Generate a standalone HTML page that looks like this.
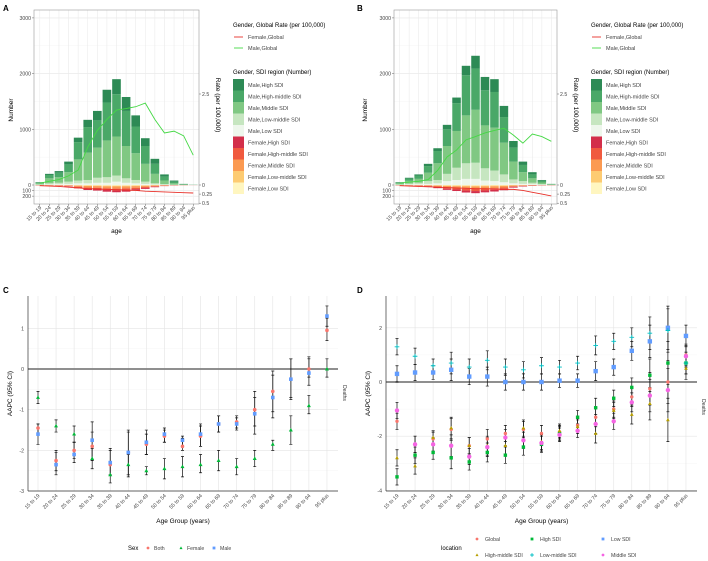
<!DOCTYPE html>
<html><head><meta charset="utf-8"><style>
html,body{margin:0;padding:0;background:#fff}
svg{display:block;font-family:"Liberation Sans",sans-serif}
</style></head><body>
<svg id="s" width="708" height="561" viewBox="0 0 708 561" xmlns="http://www.w3.org/2000/svg"></svg>
<script>
const ages=["15 to 19","20 to 24","25 to 29","30 to 34","35 to 39","40 to 44","45 to 49","50 to 54","55 to 59","60 to 64","65 to 69","70 to 74","75 to 79","80 to 84","85 to 89","90 to 94","95 plus"];
// Panel A male numbers by SDI
const aMaleHigh=[5,20,30,50,80,130,170,230,270,250,200,140,90,40,20,5,1];
const aMaleHighMid=[15,60,80,140,310,460,490,680,760,630,480,320,180,70,30,8,2];
const aMaleMid=[20,90,100,170,380,490,540,660,700,580,480,320,170,65,25,6,2];
const aMaleLowMid=[5,20,25,40,50,60,90,100,110,80,60,40,20,10,3,1,0];
const aMaleLow=[5,10,15,20,30,30,40,40,60,40,30,20,10,5,2,0,0];
const aFemHigh=[3,4,5,8,15,22,25,30,32,30,25,18,10,5,3,1,1];
const aFemHighMid=[2,4,5,8,15,22,25,30,33,30,25,17,10,5,2,1,0];
const aFemMid=[3,4,6,9,18,28,30,36,39,36,30,21,12,6,3,2,1];
const aFemLowMid=[1,2,2,3,6,9,10,12,13,12,10,7,4,2,1,1,0];
const aFemLow=[1,1,2,2,6,9,10,12,13,12,10,7,4,2,1,0,0];
const aRateMale=[0.05,0.1,0.15,0.25,0.41,1.04,1.5,1.8,2.06,2.1,2.15,2.25,1.8,1.43,1.48,1.35,0.82];
const aRateFem=[0.02,0.03,0.04,0.06,0.08,0.1,0.11,0.12,0.13,0.14,0.15,0.17,0.18,0.19,0.2,0.21,0.22];
// Panel B
const bMaleHigh=[5,15,20,40,50,80,100,170,230,240,230,200,120,60,40,15,4];
const bMaleHighMid=[15,40,60,120,220,300,500,720,740,630,640,460,250,130,70,30,6];
const bMaleMid=[20,50,70,150,300,500,660,860,950,770,770,570,320,160,80,30,6];
const bMaleLowMid=[5,15,25,50,60,130,220,280,290,220,190,140,70,50,25,10,3];
const bMaleLow=[5,10,15,20,30,70,90,110,110,80,70,50,30,20,15,5,1];
const bFemHigh=[3,4,5,8,15,22,28,35,38,34,30,25,12,8,5,3,2];
const bFemHighMid=[2,4,5,8,14,22,27,35,37,33,30,24,12,7,4,2,1];
const bFemMid=[3,4,6,10,17,26,32,40,44,40,35,28,14,8,5,3,2];
const bFemLowMid=[1,2,2,3,6,9,11,13,15,13,12,9,5,3,2,1,1];
const bFemLow=[1,1,2,2,5,8,10,12,13,12,10,8,4,2,1,1,0];
const bRateMale=[0.05,0.08,0.1,0.15,0.4,0.77,0.96,1.24,1.33,1.43,1.5,1.56,1.37,1.15,1.4,1.33,1.2];
const bRateFem=[0.02,0.03,0.04,0.05,0.06,0.07,0.08,0.09,0.1,0.1,0.11,0.12,0.12,0.15,0.2,0.25,0.3];
// Panel C
const cBoth=[-1.45,-2.25,-2.0,-1.9,-2.35,-2.05,-1.85,-1.65,-1.9,-1.65,-1.35,-1.3,-1.0,-0.55,-0.25,0.0,0.95];
const cBothLo=[-1.6,-2.5,-2.2,-2.25,-2.6,-2.6,-2.1,-1.8,-2.0,-1.9,-1.55,-1.45,-1.4,-1.05,-0.7,-0.2,0.7];
const cBothHi=[-1.35,-2.0,-1.8,-1.55,-2.0,-1.55,-1.6,-1.5,-1.7,-1.4,-1.15,-1.15,-0.55,-0.05,0.25,0.3,1.25];
const cFem=[-0.7,-1.4,-1.6,-2.2,-2.6,-2.35,-2.5,-2.45,-2.4,-2.35,-2.25,-2.4,-2.2,-1.85,-1.5,-0.9,0.0];
const cFemLo=[-0.85,-1.55,-1.8,-2.45,-2.8,-2.65,-2.6,-2.7,-2.65,-2.55,-2.5,-2.6,-2.4,-2.0,-1.85,-1.1,-0.2];
const cFemHi=[-0.55,-1.25,-1.4,-1.95,-2.35,-2.1,-2.4,-2.2,-2.15,-2.1,-2.0,-2.2,-2.0,-1.75,-1.15,-0.65,0.25];
const cMale=[-1.6,-2.35,-2.1,-1.75,-2.3,-2.05,-1.8,-1.6,-1.75,-1.6,-1.35,-1.35,-1.1,-0.7,-0.25,-0.1,1.3];
const cMaleLo=[-1.85,-2.6,-2.3,-2.25,-2.6,-2.6,-2.1,-1.8,-1.9,-1.9,-1.55,-1.5,-1.6,-1.2,-0.75,-0.4,1.05];
const cMaleHi=[-1.35,-2.05,-1.8,-1.3,-1.95,-1.5,-1.5,-1.45,-1.65,-1.35,-1.15,-1.2,-0.7,-0.15,0.25,0.25,1.55];
// Panel D
const dGlobal=[-1.45,-2.3,-2.1,-1.75,-2.35,-2.1,-1.9,-1.75,-1.9,-1.85,-1.6,-1.3,-1.0,-0.55,-0.25,0.0,1.0];
const dHighSDI=[-3.5,-2.7,-2.6,-2.8,-2.95,-2.6,-2.7,-2.4,-2.3,-1.9,-1.3,-0.95,-0.6,-0.2,0.25,0.7,0.7];
const dLowSDI=[0.3,0.35,0.35,0.45,0.2,0.2,0.0,0.0,0.0,0.05,0.05,0.4,0.55,1.15,1.5,2.0,1.7];
const dHighMid=[-2.8,-3.1,-2.05,-1.7,-2.35,-2.35,-2.35,-1.7,-2.2,-1.8,-1.65,-1.9,-1.05,-1.2,-0.8,-1.4,0.5];
const dLowMid=[1.3,0.95,0.6,0.7,0.55,0.8,0.55,0.45,0.6,0.55,0.7,1.35,1.5,1.65,1.8,1.9,0.7];
const dMiddle=[-1.05,-2.3,-2.3,-2.35,-2.75,-2.4,-2.05,-2.15,-2.25,-1.95,-1.8,-1.55,-1.45,-0.75,-0.5,-0.3,0.95];
const dErr=[0.3,0.3,0.25,0.4,0.3,0.35,0.3,0.3,0.3,0.25,0.25,0.35,0.3,0.35,0.6,0.8,0.4];

const NS="http://www.w3.org/2000/svg";const S=document.getElementById('s');
function el(t,a,p){const e=document.createElementNS(NS,t);for(const k in a)e.setAttribute(k,a[k]);(p||S).appendChild(e);return e;}
function tx(x,y,s,o){const e=el('text',Object.assign({x:x,y:y,'font-size':5.5,fill:'#444'},o||{}));e.textContent=s;return e;}

const mCols=["#2d8a55","#4aa868","#80c883","#c6e6c0","#eef7ec"];
const fCols=["#d32f4a","#f05a3f","#fb9a52","#fdcb72","#fff6c0"];

function barPanel(ox,x0,x1,letter,males,fems,rM,rF,nm){
  const g=el('g',{});
  
  
  const yT=10,yB=204,y0=185,k=0.0557,rk=36.4;
  const n=ages.length,step=(x1-x0)/(n-1+1.2);
  const cx=i=>x0+(0.6+i)*step;
  const yN=v=>y0-v*k, yNf=v=>y0+v*k, yR=r=>y0-r*rk, yRf=r=>y0+r*rk;
  el('rect',{x:x0,y:yT,width:x1-x0,height:yB-yT,fill:'#fff'},g);
  [500,1500,2500].forEach(v=>el('line',{x1:x0,x2:x1,y1:yN(v),y2:yN(v),stroke:'#f3f3f3','stroke-width':0.4},g));
  [0,1000,2000,3000].forEach(v=>el('line',{x1:x0,x2:x1,y1:yN(v),y2:yN(v),stroke:'#e6e6e6','stroke-width':0.6},g));
  [100,200].forEach(v=>el('line',{x1:x0,x2:x1,y1:yNf(v),y2:yNf(v),stroke:'#e6e6e6','stroke-width':0.6},g));
  ages.forEach((a,i)=>el('line',{x1:cx(i),x2:cx(i),y1:yT,y2:yB,stroke:'#ebebeb','stroke-width':0.6},g));
  const bw=step*0.9;
  ages.forEach((a,i)=>{
    let acc=0;
    for(let s=4;s>=0;s--){const v=males[s][i];const r=el('rect',{x:cx(i)-bw/2,y:yN(acc+v),width:bw,height:v*k,fill:mCols[s]},g);
      
      acc+=v;}
    acc=0;
    for(let s=4;s>=0;s--){const v=fems[s][i];const r=el('rect',{x:cx(i)-bw/2,y:yNf(acc),width:bw,height:v*k,fill:fCols[s]},g);
      
      acc+=v;}
  });
  const lm=el('polyline',{points:rM.map((r,i)=>cx(i)+','+yR(r)).join(' '),fill:'none',stroke:'#45d845','stroke-width':0.9},g);
  
  
  const lf=el('polyline',{points:rF.map((r,i)=>cx(i)+','+yRf(r)).join(' '),fill:'none',stroke:'#e8312a','stroke-width':0.9},g);
  
  
  el('rect',{x:x0,y:yT,width:x1-x0,height:yB-yT,fill:'none',stroke:'#999','stroke-width':0.6},g);
  [[3000,yN(3000)],[2000,yN(2000)],[1000,yN(1000)],[0,yN(0)],[100,yNf(100)],[200,yNf(200)]].forEach(t=>{
    el('line',{x1:x0-2,x2:x0,y1:t[1],y2:t[1],stroke:'#666','stroke-width':0.5},g);
    tx(x0-3,t[1]+2,String(t[0]),{'text-anchor':'end','font-size':5.2});});
  [[2.5,yR(2.5)],[0,y0],[0.25,yRf(0.25)],[0.5,yRf(0.5)]].forEach(t=>{
    el('line',{x1:x1,x2:x1+2,y1:t[1],y2:t[1],stroke:'#666','stroke-width':0.5},g);
    tx(x1+3,t[1]+2,String(t[0]),{'font-size':5.2});});
  ages.forEach((a,i)=>{el('line',{x1:cx(i),x2:cx(i),y1:yB,y2:yB+2,stroke:'#666','stroke-width':0.5},g);
    tx(cx(i)+2,yB+4,a,{'text-anchor':'end','font-size':5.2,transform:`rotate(-45 ${cx(i)+2} ${yB+4})`});});
  tx((x0+x1)/2,233,'age',{'text-anchor':'middle','font-size':6.5,fill:'#000'});
  tx(0,0,'Number',{'text-anchor':'middle','font-size':6.5,fill:'#000',transform:`translate(${ox+13},110) rotate(-90)`});
  tx(0,0,'Rate  (per 100,000)',{'text-anchor':'middle','font-size':6.5,fill:'#000',transform:`translate(${x1+17},105) rotate(90)`});
  tx(ox+3,11,letter,{'font-size':8,'font-weight':'bold',fill:'#000'});
  const lx=x1+34;
  tx(lx,27,'Gender, Global Rate (per 100,000)',{'font-size':6,fill:'#000'});
  [['Female,Global','#e8312a',37],['Male,Global','#45d845',48]].forEach(e=>{
    el('line',{x1:lx+1,x2:lx+10,y1:e[2],y2:e[2],stroke:e[1],'stroke-width':0.9},g);tx(lx+15,e[2]+2,e[0],{'font-size':5.5});});
  tx(lx,74,'Gender, SDI region (Number)',{'font-size':6,fill:'#000'});
  const labs=["Male,High SDI","Male,High-middle SDI","Male,Middle SDI","Male,Low-middle SDI","Male,Low SDI","Female,High SDI","Female,High-middle SDI","Female,Middle SDI","Female,Low-middle SDI","Female,Low SDI"];
  const cols=mCols.concat(fCols);
  labs.forEach((l,i)=>{const yy=79+i*11.5;el('rect',{x:lx,y:yy,width:11,height:11.5,fill:cols[i]},g);tx(lx+15,yy+8,l,{'font-size':5.5});});
}
barPanel(0,34,199,'A',[aMaleHigh,aMaleHighMid,aMaleMid,aMaleLowMid,aMaleLow],[aFemHigh,aFemHighMid,aFemMid,aFemLowMid,aFemLow],aRateMale,aRateFem,'panel-a');
barPanel(354,394,557,'B',[bMaleHigh,bMaleHighMid,bMaleMid,bMaleLowMid,bMaleLow],[bFemHigh,bFemHighMid,bFemMid,bFemLowMid,bFemLow],bRateMale,bRateFem,'panel-b');

function shape(g,kind,x,y,c,r){
  r=r||2;
  if(kind==='circle')return el('circle',{cx:x,cy:y,r:r,fill:c},g);
  if(kind==='tri')return el('polygon',{points:`${x},${y-r*1.2} ${x-r*1.1},${y+r*0.8} ${x+r*1.1},${y+r*0.8}`,fill:c},g);
  if(kind==='square')return el('rect',{x:x-r,y:y-r,width:2*r,height:2*r,fill:c},g);
  if(kind==='plus'){const p=el('path',{d:`M${x-r*1.3},${y}H${x+r*1.3}M${x},${y-r*1.3}V${y+r*1.3}`,stroke:c,'stroke-width':0.9},g);return p;}
}
function aapcPanel(letter,x0,x1,yT,yB,c0,yz,uk,yticks,series,nm,ox,stripY){
  const g=el('g',{});
  
  
  const cx=i=>c0+i*18.06, yv=v=>yz-v*uk;
  yticks.forEach(v=>el('line',{x1:x0,x2:x1,y1:yv(v),y2:yv(v),stroke:'#e4e4e4','stroke-width':0.6},g));
  yticks.slice(0,-1).forEach((v,j)=>{const m=(v+yticks[j+1])/2;el('line',{x1:x0,x2:x1,y1:yv(m),y2:yv(m),stroke:'#f3f3f3','stroke-width':0.4},g);});
  ages.forEach((a,i)=>el('line',{x1:cx(i),x2:cx(i),y1:yT,y2:yB,stroke:'#e4e4e4','stroke-width':0.6},g));
  el('line',{x1:x0,x2:x1,y1:yz,y2:yz,stroke:'#7f7f7f','stroke-width':1.8},g);
  series.forEach(s=>{s.v.forEach((v,i)=>{const lo=s.lo?s.lo[i]:v-s.e[i],hi=s.hi?s.hi[i]:v+s.e[i];
    const e=el('path',{d:`M${cx(i)},${yv(lo)}V${yv(hi)}M${cx(i)-1.5},${yv(lo)}H${cx(i)+1.5}M${cx(i)-1.5},${yv(hi)}H${cx(i)+1.5}`,stroke:'#111','stroke-width':0.7},g);
    
    });});
  series.forEach(s=>{s.v.forEach((v,i)=>{const p=shape(g,s.shape,cx(i),yv(v),s.c,s.r);
    
    });});
  el('line',{x1:x0,x2:x0,y1:yT,y2:yB,stroke:'#333','stroke-width':0.7},g);
  el('line',{x1:x0,x2:x1,y1:yB,y2:yB,stroke:'#333','stroke-width':0.7},g);
  yticks.forEach(v=>tx(x0-4,yv(v)+2,String(v),{'text-anchor':'end','font-size':5.2}));
  ages.forEach((a,i)=>tx(cx(i)+2,yB+5,a,{'text-anchor':'end','font-size':5.2,transform:`rotate(-45 ${cx(i)+2} ${yB+5})`}));
  tx((x0+x1)/2,yB+32,'Age Group (years)',{'text-anchor':'middle','font-size':6.5,fill:'#000'});
  tx(0,0,'AAPC (95% CI)',{'text-anchor':'middle','font-size':6.5,fill:'#000',transform:`translate(${x0-16},${(yT+yB)/2}) rotate(-90)`});
  tx(0,0,'Deaths',{'text-anchor':'middle','font-size':5,fill:'#333',transform:`translate(${x1+5},${stripY}) rotate(90)`});
  tx(ox+3,293,letter,{'font-size':8,'font-weight':'bold',fill:'#000'});
}
aapcPanel('C',28,338,296,491,38,369,40.7,[-3,-2,-1,0,1],[
  {name:'Both',v:cBoth,lo:cBothLo,hi:cBothHi,c:'#f8766d',shape:'circle',r:1.8},
  {name:'Female',v:cFem,lo:cFemLo,hi:cFemHi,c:'#00ba38',shape:'tri',r:1.8},
  {name:'Male',v:cMale,lo:cMaleLo,hi:cMaleHi,c:'#619cff',shape:'square',r:1.8}],'panel-c',0,393);
aapcPanel('D',386,697,296,491,397,382,27.1,[-4,-2,0,2],[
  {name:'Global',v:dGlobal,e:dErr,c:'#f8766d',shape:'circle',r:1.7},
  {name:'High SDI',v:dHighSDI,e:dErr,c:'#00ba38',shape:'square',r:1.7},
  {name:'Low SDI',v:dLowSDI,e:dErr,c:'#619cff',shape:'square',r:2.2},
  {name:'High-middle SDI',v:dHighMid,e:dErr,c:'#b79f00',shape:'tri',r:1.7},
  {name:'Low-middle SDI',v:dLowMid,e:dErr,c:'#00bfc4',shape:'plus',r:1.8},
  {name:'Middle SDI',v:dMiddle,e:dErr,c:'#f564e3',shape:'circle',r:2.2}],'panel-d',354,407);

// legends
const lc=el('g',{});


tx(128,550,'Sex',{'font-size':6,fill:'#000'});
[['Both','#f8766d','circle',148],['Female','#00ba38','tri',181],['Male','#619cff','square',214]].forEach(e=>{shape(lc,e[2],e[3],548,e[1],1.4);tx(e[3]+6,550,e[0],{'font-size':5.2});});
const ld=el('g',{});


tx(441,550,'location',{'font-size':6,fill:'#000'});
[['Global','#f8766d','circle',477,539],['High SDI','#00ba38','square',532,539],['Low SDI','#619cff','square',603,539],
 ['High-middle SDI','#b79f00','tri',477,555],['Low-middle SDI','#00bfc4','plus',532,555],['Middle SDI','#f564e3','circle',603,555]].forEach(e=>{
  shape(ld,e[2],e[3],e[4],e[1],1.4);tx(e[3]+8,e[4]+2,e[0],{'font-size':5.2});});
</script>
</body></html>
